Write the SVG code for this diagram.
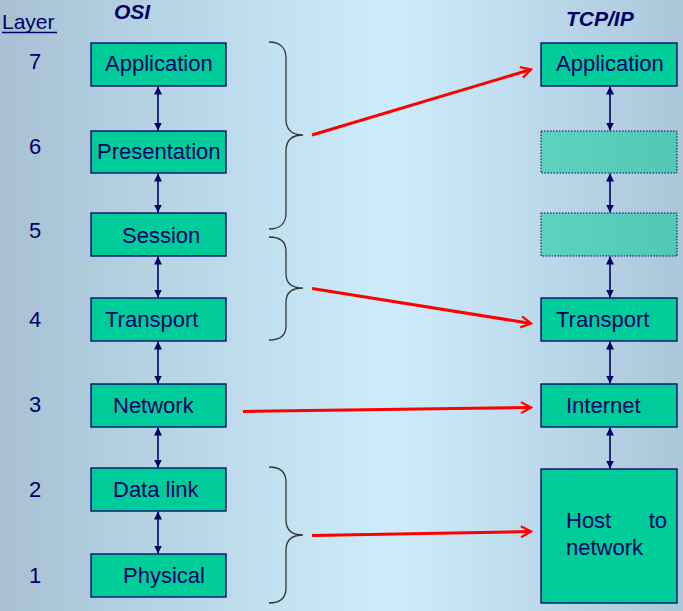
<svg xmlns="http://www.w3.org/2000/svg" width="683" height="611" viewBox="0 0 683 611">
<defs>
<linearGradient id="bg" x1="0" y1="0" x2="1" y2="0">
<stop offset="0" stop-color="#a7c1d3"/>
<stop offset="0.57" stop-color="#cdedfc"/>
<stop offset="1" stop-color="#abc6d9"/>
</linearGradient>
<linearGradient id="dot" x1="0" y1="0" x2="1" y2="0">
<stop offset="0" stop-color="#5dd3bf"/>
<stop offset="1" stop-color="#52c7b4"/>
</linearGradient>
<marker id="nv" viewBox="0 0 8 8" markerWidth="8" markerHeight="8" refX="8" refY="4" orient="auto-start-reverse" markerUnits="userSpaceOnUse">
<path d="M0,0 L8,4 L0,8 z" fill="#000066"/>
</marker>
<marker id="rd" viewBox="0 0 14 14" markerWidth="14" markerHeight="14" refX="12" refY="7" orient="auto" markerUnits="userSpaceOnUse">
<path d="M2,1.5 L12,7 L2,12.5" fill="none" stroke="#ff0000" stroke-width="2.2"/>
</marker>
</defs>
<style>
.box{fill:#00cc99;stroke:#000066;stroke-width:1.3}
.dbox{fill:url(#dot);stroke:#000066;stroke-width:1;stroke-dasharray:1.5 1.5}
.t{font-family:"Liberation Sans",Arial,sans-serif;font-size:22px;fill:#000066}
.h{font-family:"Liberation Sans",Arial,sans-serif;font-size:21px;font-weight:bold;font-style:italic;fill:#000066}
.v{stroke:#000066;stroke-width:1.6;fill:none;marker-start:url(#nv);marker-end:url(#nv)}
.r{stroke:#ff0000;stroke-width:3;fill:none;marker-end:url(#rd)}
.b{stroke:#333333;stroke-width:1.3;fill:none}
</style>
<rect x="0" y="0" width="683" height="611" fill="url(#bg)"/>

<g id="headers">
<text class="t" x="2" y="29" style="font-size:21px">Layer</text>
<line x1="2" y1="32.5" x2="57" y2="32.5" stroke="#000066" stroke-width="1.3"/>
<text class="h" x="114" y="19">OSI</text>
<text class="h" x="566" y="26">TCP/IP</text>
</g>

<g id="layer-numbers">
<text class="t" x="29" y="69">7</text>
<text class="t" x="29" y="154">6</text>
<text class="t" x="29" y="238">5</text>
<text class="t" x="29" y="327">4</text>
<text class="t" x="29" y="412">3</text>
<text class="t" x="29" y="497">2</text>
<text class="t" x="29" y="583">1</text>
</g>

<g id="osi-application"><rect class="box" x="91" y="43" width="135" height="43"/><text class="t" x="105" y="71">Application</text></g>
<g id="osi-presentation"><rect class="box" x="91" y="131" width="135" height="42"/><text class="t" x="97" y="158.5">Presentation</text></g>
<g id="osi-session"><rect class="box" x="91" y="213" width="135" height="43"/><text class="t" x="122" y="243">Session</text></g>
<g id="osi-transport"><rect class="box" x="91" y="298" width="135" height="43"/><text class="t" x="105" y="327">Transport</text></g>
<g id="osi-network"><rect class="box" x="91" y="384" width="135" height="43"/><text class="t" x="113" y="413">Network</text></g>
<g id="osi-datalink"><rect class="box" x="91" y="468" width="135" height="43"/><text class="t" x="113" y="497">Data link</text></g>
<g id="osi-physical"><rect class="box" x="91" y="554" width="135" height="43"/><text class="t" x="123" y="583">Physical</text></g>

<g id="tcp-application"><rect class="box" x="541" y="43" width="136" height="43"/><text class="t" x="556" y="71">Application</text></g>
<g id="tcp-empty1"><rect class="dbox" x="541" y="131" width="136" height="42"/></g>
<g id="tcp-empty2"><rect class="dbox" x="541" y="213" width="136" height="43"/></g>
<g id="tcp-transport"><rect class="box" x="541" y="298" width="136" height="43"/><text class="t" x="556" y="327">Transport</text></g>
<g id="tcp-internet"><rect class="box" x="541" y="384" width="136" height="43"/><text class="t" x="566" y="413">Internet</text></g>
<g id="tcp-host"><rect class="box" x="541" y="469" width="136" height="134"/><text class="t" x="566" y="528">Host</text><text class="t" x="667" y="528" text-anchor="end">to</text><text class="t" x="566" y="555">network</text></g>

<g id="braces">
<path class="b" d="M269,42 C280,42 286,48 286,58 L286,119 C286,130 292,135 303,135 C292,135 286,140 286,151 L286,213 C286,223 280,229 269,229"/>
<path class="b" d="M269,237 C280,237 286,242 286,251 L286,274 C286,283 292,288 303,288 C292,288 286,293 286,302 L286,326 C286,335 280,340 269,340"/>
<path class="b" d="M269,467 C280,467 286,472 286,482 L286,520 C286,530 292,535 303,535 C292,535 286,540 286,550 L286,588 C286,598 280,603 269,603"/>
</g>

<g id="connectors">
<line class="v" x1="158" y1="86.5" x2="158" y2="130.5"/>
<line class="v" x1="158" y1="173.5" x2="158" y2="212.5"/>
<line class="v" x1="158" y1="256.5" x2="158" y2="297.5"/>
<line class="v" x1="158" y1="341.5" x2="158" y2="383.5"/>
<line class="v" x1="158" y1="427.5" x2="158" y2="467.5"/>
<line class="v" x1="158" y1="511.5" x2="158" y2="553.5"/>
<line class="v" x1="610" y1="86.5" x2="610" y2="130.5"/>
<line class="v" x1="610" y1="173.5" x2="610" y2="212.5"/>
<line class="v" x1="610" y1="256.5" x2="610" y2="297.5"/>
<line class="v" x1="610" y1="341.5" x2="610" y2="383.5"/>
<line class="v" x1="610" y1="427.5" x2="610" y2="468.5"/>
<line class="r" x1="312" y1="135" x2="531" y2="69.5"/>
<line class="r" x1="312" y1="288.5" x2="531" y2="323.5"/>
<line class="r" x1="243" y1="411.5" x2="531" y2="407.5"/>
<line class="r" x1="312" y1="535.5" x2="531" y2="531.5"/>
</g>
</svg>
